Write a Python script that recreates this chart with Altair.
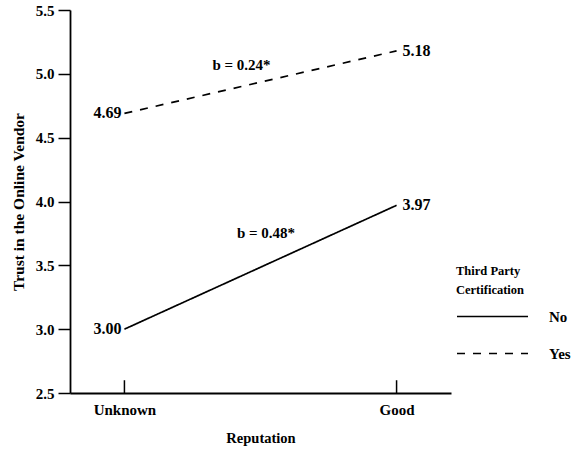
import altair as alt
import pandas as pd

reputation = ["Unknown", "Good"]
x_pos = [0, 1]
no_vals = [3.00, 3.97]
yes_vals = [4.69, 5.18]
certification = ["No", "Yes"]
slope_labels = ["b = 0.48*", "b = 0.24*"]
slope_x = [0.52, 0.43]
slope_y = [3.75, 5.07]

FONT = "Liberation Serif"

rows = []
for cert, vals in zip(certification, [no_vals, yes_vals]):
    for x, r, v in zip(x_pos, reputation, vals):
        rows.append({"x": x, "rep": r, "cert": cert, "value": v, "label": f"{v:.2f}"})
df = pd.DataFrame(rows)

ann = pd.DataFrame({"x": slope_x, "y": slope_y, "text": slope_labels})
ticks = pd.DataFrame({"x": x_pos, "y": [2.5] * 2, "y2": [2.6] * 2})

label_expr = " : ".join(
    [f"datum.value == {x} ? '{r}'" for x, r in zip(x_pos, reputation)]
) + " : ''"

xscale = alt.Scale(domain=[-0.2, 1.2], nice=False, zero=False)
yscale = alt.Scale(domain=[2.5, 5.5], nice=False, zero=False)

x_enc = alt.X(
    "x:Q",
    scale=xscale,
    axis=alt.Axis(
        values=x_pos,
        labelExpr=label_expr,
        title="Reputation",
        ticks=False,
        grid=False,
        labelPadding=9,
        titlePadding=14,
        titleFontSize=14.5,
    ),
)
y_enc = alt.Y(
    "value:Q",
    scale=yscale,
    axis=alt.Axis(
        values=[2.5, 3.0, 3.5, 4.0, 4.5, 5.0, 5.5],
        format=".1f",
        title="Trust in the Online Vendor",
        tickSize=12,
        grid=False,
        labelPadding=4,
        titlePadding=9,
        titleFontSize=15.5,
    ),
)

lines = alt.Chart(df).mark_line(color="black", strokeWidth=1.7).encode(
    x=x_enc,
    y=y_enc,
    strokeDash=alt.StrokeDash(
        "cert:N",
        scale=alt.Scale(domain=certification, range=[[1, 0], [8, 8]]),
        legend=alt.Legend(
            title=["Third Party", "Certification"],
            orient="none",
            legendX=386,
            legendY=255,
            symbolType="stroke",
            symbolSize=5041,
            symbolStrokeWidth=1.7,
            symbolStrokeColor="black",
            clipHeight=20,
            rowPadding=17,
            labelOffset=20,
            titlePadding=10,
        ),
    ),
    detail="cert:N",
)

left_labels = alt.Chart(df[df["x"] == 0]).mark_text(
    align="right", baseline="middle", dx=-3, font=FONT, fontWeight="bold", fontSize=16
).encode(x="x:Q", y="value:Q", text="label:N")

right_labels = alt.Chart(df[df["x"] == 1]).mark_text(
    align="left", baseline="middle", dx=6, font=FONT, fontWeight="bold", fontSize=16
).encode(x="x:Q", y="value:Q", text="label:N")

annotations = alt.Chart(ann).mark_text(
    align="center", baseline="middle", font=FONT, fontWeight="bold", fontSize=15
).encode(x="x:Q", y="y:Q", text="text:N")

inner_ticks = alt.Chart(ticks).mark_rule(color="black", strokeWidth=1.5).encode(
    x="x:Q", y="y:Q", y2="y2:Q"
)

chart = (
    alt.layer(lines, inner_ticks, left_labels, right_labels, annotations)
    .properties(
        width=381,
        height=383,
        autosize=alt.AutoSizeParams(type="none"),
        padding={"left": 70, "top": 10, "right": 124, "bottom": 59},
        background="white",
    )
    .configure_view(stroke=None)
    .configure_axis(
        domainColor="black",
        domainWidth=1.8,
        tickColor="black",
        tickWidth=1.5,
        labelFont=FONT,
        labelFontWeight="bold",
        labelFontSize=15,
        labelColor="black",
        titleFont=FONT,
        titleFontWeight="bold",
        titleColor="black",
    )
    .configure_legend(
        titleFont=FONT,
        titleFontWeight="bold",
        titleFontSize=12.5,
        titleColor="black",
        titleLineHeight=19,
        labelFont=FONT,
        labelFontWeight="bold",
        labelFontSize=15,
        labelColor="black",
    )
)

chart.save("out.html", embed_options={"renderer": "svg", "actions": False})
